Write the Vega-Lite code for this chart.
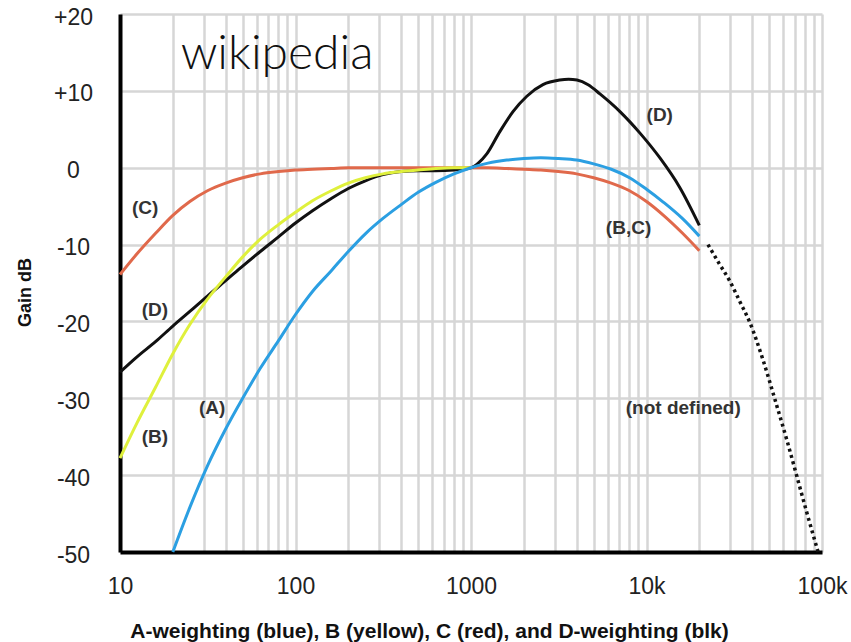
{
  "$schema": "https://vega.github.io/schema/vega-lite/v6.json",
  "width": 702,
  "height": 538,
  "autosize": {"type": "none"},
  "padding": {"left": 120, "top": 14, "right": 29, "bottom": 90},
  "background": "white",
  "config": {"view": {"stroke": null}, "font": "Liberation Sans"},
  "datasets": {
    "curves": [
      {"s": "D", "f": 10, "db": -26.6}, {"s": "D", "f": 12.5, "db": -24.6}, {"s": "D", "f": 16, "db": -22.6}, {"s": "D", "f": 20, "db": -20.6}, {"s": "D", "f": 25, "db": -18.7}, {"s": "D", "f": 31.5, "db": -16.7}, {"s": "D", "f": 40, "db": -14.7}, {"s": "D", "f": 50, "db": -12.8}, {"s": "D", "f": 63, "db": -10.9}, {"s": "D", "f": 80, "db": -9.0}, {"s": "D", "f": 100, "db": -7.2}, {"s": "D", "f": 125, "db": -5.6}, {"s": "D", "f": 160, "db": -4.0}, {"s": "D", "f": 200, "db": -2.7}, {"s": "D", "f": 250, "db": -1.7}, {"s": "D", "f": 315, "db": -0.9}, {"s": "D", "f": 400, "db": -0.5}, {"s": "D", "f": 500, "db": -0.4}, {"s": "D", "f": 630, "db": -0.4}, {"s": "D", "f": 800, "db": -0.3}, {"s": "D", "f": 1000, "db": 0}, {"s": "D", "f": 1100, "db": 0.6}, {"s": "D", "f": 1230, "db": 1.8}, {"s": "D", "f": 1460, "db": 4.7}, {"s": "D", "f": 1735, "db": 7.3}, {"s": "D", "f": 2080, "db": 9.3}, {"s": "D", "f": 2570, "db": 10.8}, {"s": "D", "f": 3200, "db": 11.4}, {"s": "D", "f": 3600, "db": 11.5}, {"s": "D", "f": 4020, "db": 11.4}, {"s": "D", "f": 4650, "db": 10.8}, {"s": "D", "f": 5430, "db": 9.6}, {"s": "D", "f": 7060, "db": 7.3}, {"s": "D", "f": 9180, "db": 4.5}, {"s": "D", "f": 11900, "db": 1.3}, {"s": "D", "f": 15500, "db": -2.6}, {"s": "D", "f": 20000, "db": -7.5},
      {"s": "C", "f": 10, "db": -13.9}, {"s": "C", "f": 12.5, "db": -11.2}, {"s": "C", "f": 16, "db": -8.5}, {"s": "C", "f": 20, "db": -6.2}, {"s": "C", "f": 25, "db": -4.4}, {"s": "C", "f": 31.5, "db": -3.0}, {"s": "C", "f": 40, "db": -2.0}, {"s": "C", "f": 50, "db": -1.3}, {"s": "C", "f": 63, "db": -0.8}, {"s": "C", "f": 80, "db": -0.5}, {"s": "C", "f": 100, "db": -0.3}, {"s": "C", "f": 125, "db": -0.2}, {"s": "C", "f": 160, "db": -0.1}, {"s": "C", "f": 200, "db": 0}, {"s": "C", "f": 500, "db": 0}, {"s": "C", "f": 1000, "db": 0}, {"s": "C", "f": 1250, "db": 0}, {"s": "C", "f": 1600, "db": -0.1}, {"s": "C", "f": 2000, "db": -0.2}, {"s": "C", "f": 2500, "db": -0.3}, {"s": "C", "f": 3150, "db": -0.5}, {"s": "C", "f": 4000, "db": -0.8}, {"s": "C", "f": 5000, "db": -1.3}, {"s": "C", "f": 6300, "db": -2.0}, {"s": "C", "f": 8000, "db": -3.0}, {"s": "C", "f": 10000, "db": -4.4}, {"s": "C", "f": 12500, "db": -6.2}, {"s": "C", "f": 16000, "db": -8.5}, {"s": "C", "f": 20000, "db": -10.8},
      {"s": "B", "f": 10, "db": -37.8}, {"s": "B", "f": 12.5, "db": -33.2}, {"s": "B", "f": 16, "db": -28.5}, {"s": "B", "f": 20, "db": -24.2}, {"s": "B", "f": 25, "db": -20.4}, {"s": "B", "f": 31.5, "db": -17.1}, {"s": "B", "f": 40, "db": -14.2}, {"s": "B", "f": 50, "db": -11.6}, {"s": "B", "f": 63, "db": -9.3}, {"s": "B", "f": 80, "db": -7.4}, {"s": "B", "f": 100, "db": -5.8}, {"s": "B", "f": 125, "db": -4.3}, {"s": "B", "f": 160, "db": -3.0}, {"s": "B", "f": 200, "db": -2.0}, {"s": "B", "f": 250, "db": -1.3}, {"s": "B", "f": 315, "db": -0.8}, {"s": "B", "f": 400, "db": -0.5}, {"s": "B", "f": 500, "db": -0.3}, {"s": "B", "f": 630, "db": -0.1}, {"s": "B", "f": 800, "db": 0}, {"s": "B", "f": 1000, "db": 0},
      {"s": "A", "f": 20, "db": -50}, {"s": "A", "f": 25, "db": -44.2}, {"s": "A", "f": 31.5, "db": -38.8}, {"s": "A", "f": 40, "db": -34.0}, {"s": "A", "f": 50, "db": -30.0}, {"s": "A", "f": 63, "db": -26.1}, {"s": "A", "f": 80, "db": -22.5}, {"s": "A", "f": 100, "db": -19.1}, {"s": "A", "f": 125, "db": -16.1}, {"s": "A", "f": 160, "db": -13.4}, {"s": "A", "f": 200, "db": -10.9}, {"s": "A", "f": 250, "db": -8.6}, {"s": "A", "f": 315, "db": -6.6}, {"s": "A", "f": 400, "db": -4.8}, {"s": "A", "f": 500, "db": -3.2}, {"s": "A", "f": 630, "db": -1.9}, {"s": "A", "f": 800, "db": -0.8}, {"s": "A", "f": 1000, "db": 0}, {"s": "A", "f": 1250, "db": 0.6}, {"s": "A", "f": 1600, "db": 1.0}, {"s": "A", "f": 2000, "db": 1.2}, {"s": "A", "f": 2500, "db": 1.3}, {"s": "A", "f": 3150, "db": 1.2}, {"s": "A", "f": 4000, "db": 1.0}, {"s": "A", "f": 5000, "db": 0.5}, {"s": "A", "f": 6300, "db": -0.2}, {"s": "A", "f": 8000, "db": -1.3}, {"s": "A", "f": 10000, "db": -2.8}, {"s": "A", "f": 12500, "db": -4.5}, {"s": "A", "f": 16000, "db": -6.6}, {"s": "A", "f": 20000, "db": -8.9},
      {"s": "X", "f": 22400, "db": -10}, {"s": "X", "f": 26000, "db": -12.5}, {"s": "X", "f": 29900, "db": -14.8}, {"s": "X", "f": 34000, "db": -17.4}, {"s": "X", "f": 38900, "db": -20.2}, {"s": "X", "f": 46100, "db": -25}, {"s": "X", "f": 54000, "db": -30.2}, {"s": "X", "f": 63000, "db": -35.4}, {"s": "X", "f": 72000, "db": -40.2}, {"s": "X", "f": 82000, "db": -44.9}, {"s": "X", "f": 95000, "db": -50}
    ],
    "notes": [
      {"k": "lab", "label": "(C)", "f": 13.9, "db": -5.2},
      {"k": "lab", "label": "(D)", "f": 15.8, "db": -18.5},
      {"k": "lab", "label": "(B)", "f": 15.8, "db": -35.0},
      {"k": "lab", "label": "(A)", "f": 33.5, "db": -31.2},
      {"k": "lab", "label": "(D)", "f": 11900, "db": 6.8},
      {"k": "lab", "label": "(B,C)", "f": 7900, "db": -7.8},
      {"k": "lab", "label": "(not defined)", "f": 16200, "db": -31.2},
      {"k": "wm", "label": "wikipedia", "f": 78.5, "db": 14.7}
    ]
  },
  "encoding": {
    "x": {
      "field": "f", "type": "quantitative",
      "scale": {"type": "log", "domain": [10, 100000], "nice": false},
      "axis": {
        "values": [10, 20, 30, 40, 50, 60, 70, 80, 90, 100, 200, 300, 400, 500, 600, 700, 800, 900, 1000, 2000, 3000, 4000, 5000, 6000, 7000, 8000, 9000, 10000, 20000, 30000, 40000, 50000, 60000, 70000, 80000, 90000, 100000],
        "labelExpr": "datum.value == 10 || datum.value == 100 || datum.value == 1000 ? datum.value + '' : datum.value == 10000 ? '10k' : datum.value == 100000 ? '100k' : ''",
        "labelOverlap": false, "labelFlush": false,
        "grid": true, "gridColor": "#d6d6d6", "gridWidth": 2.5,
        "domainColor": "#000", "domainWidth": 4,
        "ticks": false, "tickSize": 0,
        "labelFontSize": 23, "labelColor": "#222", "labelPadding": 23,
        "title": "A-weighting (blue), B (yellow), C (red), and D-weighting (blk)",
        "titleFontSize": 21, "titleFontWeight": "bold", "titleColor": "#111",
        "titleX": 309, "titleY": 85, "titleBaseline": "alphabetic", "titleAnchor": "middle"
      }
    },
    "y": {
      "field": "db", "type": "quantitative",
      "scale": {"domain": [-50, 20], "nice": false},
      "axis": {
        "values": [-50, -40, -30, -20, -10, 0, 10, 20],
        "labelExpr": "datum.value > 0 ? '+' + datum.value : datum.value + ''",
        "grid": true, "gridColor": "#d6d6d6", "gridWidth": 2.5,
        "domainColor": "#000", "domainWidth": 4,
        "ticks": false, "tickSize": 0,
        "labelFontSize": 23, "labelColor": "#222", "labelPadding": 47, "labelAlign": "center", "labelOffset": 3,
        "title": "Gain dB", "titleFontSize": 18, "titleFontWeight": "bold", "titleColor": "#111",
        "titleX": -95, "titleY": 278, "titleAngle": -90, "titleAlign": "center", "titleBaseline": "middle"
      }
    }
  },
  "layer": [
    {"data": {"name": "curves"}, "transform": [{"filter": "datum.s == 'C'"}], "mark": {"type": "line", "color": "#e0694b", "strokeWidth": 3, "interpolate": "monotone"}},
    {"data": {"name": "curves"}, "transform": [{"filter": "datum.s == 'D'"}], "mark": {"type": "line", "color": "#111111", "strokeWidth": 3, "interpolate": "monotone"}},
    {"data": {"name": "curves"}, "transform": [{"filter": "datum.s == 'B'"}], "mark": {"type": "line", "color": "#dff03c", "strokeWidth": 3, "interpolate": "monotone"}},
    {"data": {"name": "curves"}, "transform": [{"filter": "datum.s == 'A'"}], "mark": {"type": "line", "color": "#2b9fe2", "strokeWidth": 3, "interpolate": "monotone"}},
    {"data": {"name": "curves"}, "transform": [{"filter": "datum.s == 'X'"}], "mark": {"type": "line", "color": "#111111", "strokeWidth": 3.5, "strokeDash": [3, 3.5], "strokeCap": "butt", "interpolate": "monotone"}},
    {"data": {"name": "notes"}, "transform": [{"filter": "datum.k == 'lab'"}], "mark": {"type": "text", "fontSize": 19, "fontWeight": "bold", "color": "#333", "align": "center", "baseline": "middle"}, "encoding": {"text": {"field": "label"}}},
    {"data": {"name": "notes"}, "transform": [{"filter": "datum.k == 'wm'"}], "mark": {"type": "text", "fontSize": 48, "font": "Lato", "fontWeight": 300, "color": "#111", "align": "center", "baseline": "middle"}, "encoding": {"text": {"field": "label"}}}
  ]
}
